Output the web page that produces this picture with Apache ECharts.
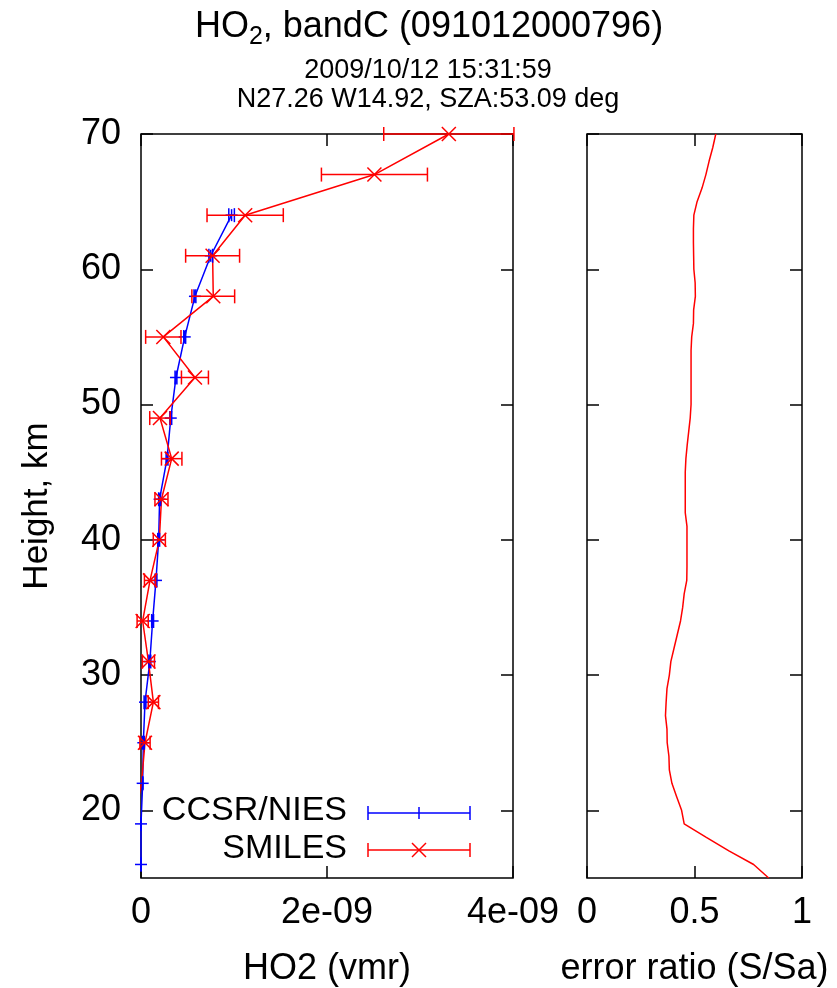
<!DOCTYPE html>
<html>
<head>
<meta charset="utf-8">
<script src="https://cdn.jsdelivr.net/npm/echarts@6/dist/echarts.min.js"></script>
<style>
html,body{margin:0;padding:0;background:#fff;}
#chart{width:837px;height:988px;}
</style>
</head>
<body>
<div id="chart"></div>
<script>
// ---- data ----
const titleMain = 'HO{s|2}, bandC (091012000796)';
const subtitle1 = '2009/10/12 15:31:59';
const subtitle2 = 'N27.26 W14.92, SZA:53.09 deg';

// CCSR/NIES (model) HO2 vmr
const ccsrHeight = [64, 61, 58, 55, 52, 49, 46, 43, 40, 37, 34, 31, 28, 25, 22, 19, 16];
const ccsrValue  = [0.974e-9, 0.75e-9, 0.58e-9, 0.47e-9, 0.376e-9, 0.32e-9, 0.28e-9, 0.20e-9, 0.19e-9, 0.161e-9, 0.125e-9, 0.095e-9, 0.043e-9, 0.025e-9, 0.018e-9, 0.0, 0.0];
const ccsrError  = [0.03e-9, 0.02e-9, 0.01e-9, 0.01e-9, 0.01e-9, 0.01e-9, 0.01e-9, 0.01e-9, 0.01e-9, 0.01e-9, 0.01e-9, 0.01e-9, 0.01e-9, 0.01e-9, 0.0, 0.0, 0.0];

// SMILES retrieved HO2 vmr (null error = outside plotted range, no marker)
const smilesHeight = [70, 67, 64, 61, 58, 55, 52, 49, 46, 43, 40, 37, 34, 31, 28, 25, 22, 19, 16];
const smilesValue  = [3.31e-9, 2.51e-9, 1.12e-9, 0.77e-9, 0.777e-9, 0.24e-9, 0.58e-9, 0.204e-9, 0.33e-9, 0.22e-9, 0.197e-9, 0.097e-9, 0.018e-9, 0.08e-9, 0.133e-9, 0.043e-9, 0.005e-9, -0.08e-9, -0.1e-9];
const smilesError  = [0.70e-9, 0.57e-9, 0.41e-9, 0.29e-9, 0.23e-9, 0.19e-9, 0.145e-9, 0.11e-9, 0.11e-9, 0.07e-9, 0.065e-9, 0.06e-9, 0.06e-9, 0.065e-9, 0.055e-9, 0.055e-9, null, null, null];

// error ratio S/Sa
const ratioHeight = [70,69,68,67,66,65,64,63,62,61,60,59,58,57,56,55,54,53,52,51,50,49,48,47,46,45,44,43,42,41,40,39,38,37,36,35,34,33,32,31,30,29,28,27,26,25,24,23,22,21,20,19,18,17,16,15];
const ratioValue  = [0.599,0.585,0.568,0.553,0.535,0.512,0.497,0.495,0.495,0.496,0.497,0.503,0.504,0.496,0.495,0.487,0.484,0.484,0.484,0.484,0.484,0.480,0.473,0.466,0.460,0.457,0.457,0.457,0.457,0.465,0.465,0.465,0.465,0.464,0.452,0.445,0.435,0.42,0.405,0.39,0.383,0.372,0.368,0.365,0.372,0.373,0.381,0.383,0.395,0.417,0.44,0.452,0.555,0.66,0.775,0.845];

const heightTicks = [20, 30, 40, 50, 60, 70];
const vmrTicksLabel = ['0', '2e-09', '4e-09'];
const ratioTickLabel = ['0', '0.5', '1'];

// ---- chart ----
const FONT = '"Liberation Sans", Arial, sans-serif';
const RED = '#ff0000', BLUE = '#0000ff';

function pairs(xs, ys) { return xs.map((x, i) => [x, ys[i]]); }

function errorBarSeries(name, values, errors, heights, color, marker) {
  const data = [];
  values.forEach((v, i) => { if (errors[i] !== null) data.push([v, errors[i], heights[i]]); });
  return {
    name: name, type: 'custom', xAxisIndex: 0, yAxisIndex: 0, clip: false, z: 5,
    encode: { x: 0, y: 2 },
    data: data,
    renderItem: function (params, api) {
      const v = api.value(0), e = api.value(1), h = api.value(2);
      const c = api.coord([v, h]);
      const l = api.coord([v - e, h]);
      const r = api.coord([v + e, h]);
      const st = { stroke: color, lineWidth: 1.5 };
      const cap = 7, m = marker === 'x' ? 7 : 6;
      const ch = [
        { type: 'line', shape: { x1: l[0], y1: l[1], x2: r[0], y2: r[1] }, style: st },
        { type: 'line', shape: { x1: l[0], y1: l[1] - cap, x2: l[0], y2: l[1] + cap }, style: st },
        { type: 'line', shape: { x1: r[0], y1: r[1] - cap, x2: r[0], y2: r[1] + cap }, style: st }
      ];
      if (marker === 'x') {
        ch.push({ type: 'line', shape: { x1: c[0] - m, y1: c[1] - m, x2: c[0] + m, y2: c[1] + m }, style: st });
        ch.push({ type: 'line', shape: { x1: c[0] - m, y1: c[1] + m, x2: c[0] + m, y2: c[1] - m }, style: st });
      } else {
        ch.push({ type: 'line', shape: { x1: c[0] - m, y1: c[1], x2: c[0] + m, y2: c[1] }, style: st });
        ch.push({ type: 'line', shape: { x1: c[0], y1: c[1] - m, x2: c[0], y2: c[1] + m }, style: st });
      }
      return { type: 'group', children: ch };
    }
  };
}

const tickStyle = { show: true, inside: true, length: 12, lineStyle: { color: '#000', width: 1.5 } };
const labelStyle = { color: '#000', fontSize: 36, fontFamily: FONT };
const noLine = { show: false, onZero: false };

function fmtVmr(v) {
  if (Math.abs(v) < 1e-15) return vmrTicksLabel[0];
  const idx = Math.round(v / 2e-9);
  return vmrTicksLabel[idx] || '';
}
function fmtRatio(v) {
  const idx = Math.round(v / 0.5);
  return ratioTickLabel[idx] || '';
}

const yBase = {
  type: 'value', min: 15, max: 70,
  axisLine: noLine, splitLine: { show: false },
  axisTick: Object.assign({}, tickStyle, { customValues: heightTicks })
};

const option = {
  backgroundColor: '#fff',
  animation: false,
  title: [
    { text: titleMain, left: 424, top: 0, textAlign: 'center',
      textStyle: { fontFamily: FONT, fontSize: 36, fontWeight: 'normal', color: '#000',
        rich: { s: { fontFamily: FONT, fontSize: 25, color: '#000', padding: [20, 0, 0, 0] } } } },
    { text: subtitle1 + '\n' + subtitle2, left: 423, top: 51, textAlign: 'center',
      textStyle: { fontFamily: FONT, fontSize: 27, fontWeight: 'normal', color: '#000', lineHeight: 29 } }
  ],
  grid: [
    { left: 141, top: 134, width: 372, height: 744, show: true, borderColor: '#000', borderWidth: 1.5,
      backgroundColor: 'transparent', outerBoundsMode: 'none', containLabel: false },
    { left: 587, top: 134, width: 215, height: 744, show: true, borderColor: '#000', borderWidth: 1.5,
      backgroundColor: 'transparent', outerBoundsMode: 'none', containLabel: false }
  ],
  xAxis: [
    { type: 'value', gridIndex: 0, position: 'bottom', min: 0, max: 4e-9, interval: 2e-9,
      axisLine: noLine, splitLine: { show: false }, axisTick: tickStyle,
      axisLabel: Object.assign({}, labelStyle, { margin: 17, formatter: fmtVmr }),
      name: 'HO2 (vmr)', nameLocation: 'middle', nameGap: 73,
      nameTextStyle: { fontFamily: FONT, fontSize: 36, color: '#000' } },
    { type: 'value', gridIndex: 0, position: 'top', min: 0, max: 4e-9, interval: 2e-9,
      axisLine: noLine, splitLine: { show: false }, axisTick: tickStyle, axisLabel: { show: false } },
    { type: 'value', gridIndex: 1, position: 'bottom', min: 0, max: 1, interval: 0.5,
      axisLine: noLine, splitLine: { show: false }, axisTick: tickStyle,
      axisLabel: Object.assign({}, labelStyle, { margin: 17, formatter: fmtRatio }),
      name: 'error ratio (S/Sa)', nameLocation: 'middle', nameGap: 73,
      nameTextStyle: { fontFamily: FONT, fontSize: 36, color: '#000' } },
    { type: 'value', gridIndex: 1, position: 'top', min: 0, max: 1, interval: 0.5,
      axisLine: noLine, splitLine: { show: false }, axisTick: tickStyle, axisLabel: { show: false } }
  ],
  yAxis: [
    Object.assign({}, yBase, { gridIndex: 0, position: 'left',
      axisLabel: Object.assign({}, labelStyle, { margin: 20, customValues: heightTicks }),
      name: 'Height, km', nameLocation: 'middle', nameGap: 86,
      nameTextStyle: { fontFamily: FONT, fontSize: 35, color: '#000' } }),
    Object.assign({}, yBase, { gridIndex: 0, position: 'right', axisLabel: { show: false } }),
    Object.assign({}, yBase, { gridIndex: 1, position: 'left', axisLabel: { show: false } }),
    Object.assign({}, yBase, { gridIndex: 1, position: 'right', axisLabel: { show: false } })
  ],
  series: [
    { name: 'CCSR/NIES line', type: 'line', xAxisIndex: 0, yAxisIndex: 0, data: pairs(ccsrValue, ccsrHeight),
      symbol: 'none', clip: true, lineStyle: { color: BLUE, width: 1.5 }, z: 3 },
    errorBarSeries('CCSR/NIES', ccsrValue, ccsrError, ccsrHeight, BLUE, '+'),
    { name: 'SMILES line', type: 'line', xAxisIndex: 0, yAxisIndex: 0, data: pairs(smilesValue, smilesHeight),
      symbol: 'none', clip: true, lineStyle: { color: RED, width: 1.5 }, z: 4 },
    errorBarSeries('SMILES', smilesValue, smilesError, smilesHeight, RED, 'x'),
    { name: 'error ratio', type: 'line', xAxisIndex: 2, yAxisIndex: 2, data: pairs(ratioValue, ratioHeight),
      symbol: 'none', clip: true, lineStyle: { color: RED, width: 1.5 } }
  ],
  graphic: [
    { type: 'text', x: 347, y: 811, style: { text: 'CCSR/NIES', fontFamily: FONT, fontSize: 34, fill: '#000', align: 'right', verticalAlign: 'middle' } },
    { type: 'text', x: 347, y: 849, style: { text: 'SMILES', fontFamily: FONT, fontSize: 34, fill: '#000', align: 'right', verticalAlign: 'middle' } },
    { type: 'group', children: [
      { type: 'line', shape: { x1: 368, y1: 813, x2: 470, y2: 813 }, style: { stroke: BLUE, lineWidth: 1.5 } },
      { type: 'line', shape: { x1: 368, y1: 806, x2: 368, y2: 820 }, style: { stroke: BLUE, lineWidth: 1.5 } },
      { type: 'line', shape: { x1: 470, y1: 806, x2: 470, y2: 820 }, style: { stroke: BLUE, lineWidth: 1.5 } },
      { type: 'line', shape: { x1: 419, y1: 807, x2: 419, y2: 819 }, style: { stroke: BLUE, lineWidth: 1.5 } },
      { type: 'line', shape: { x1: 368, y1: 850, x2: 470, y2: 850 }, style: { stroke: RED, lineWidth: 1.5 } },
      { type: 'line', shape: { x1: 368, y1: 843, x2: 368, y2: 857 }, style: { stroke: RED, lineWidth: 1.5 } },
      { type: 'line', shape: { x1: 470, y1: 843, x2: 470, y2: 857 }, style: { stroke: RED, lineWidth: 1.5 } },
      { type: 'line', shape: { x1: 412, y1: 843, x2: 426, y2: 857 }, style: { stroke: RED, lineWidth: 1.5 } },
      { type: 'line', shape: { x1: 412, y1: 857, x2: 426, y2: 843 }, style: { stroke: RED, lineWidth: 1.5 } }
    ] }
  ]
};

const chart = echarts.init(document.getElementById('chart'), null, { renderer: 'canvas' });
chart.setOption(option);
</script>
</body>
</html>
